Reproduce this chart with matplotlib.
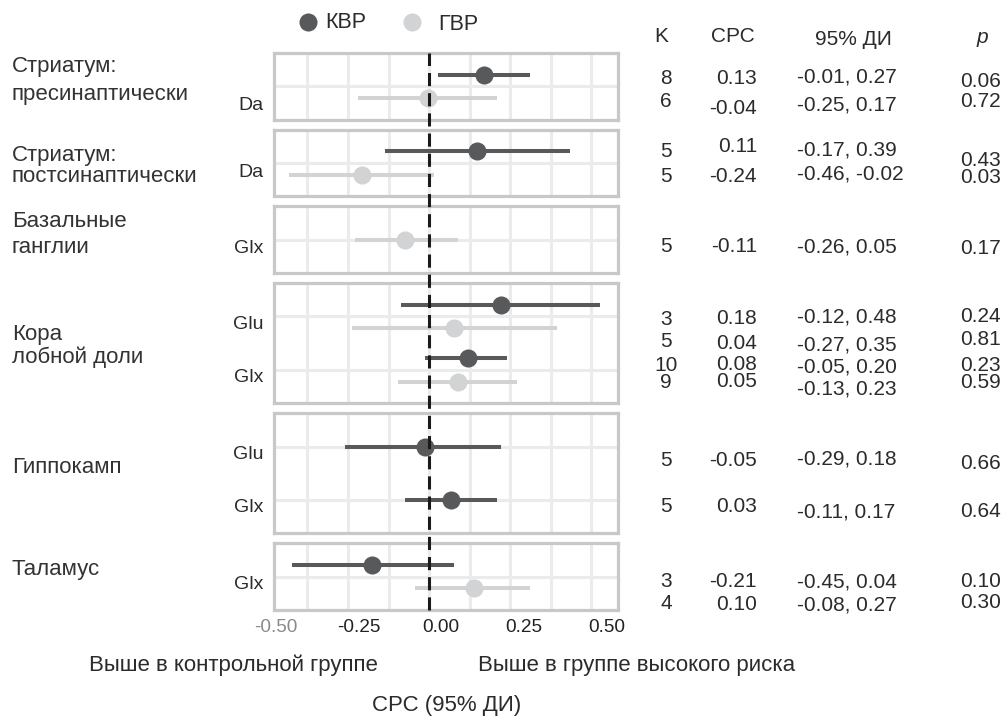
import numpy as np
import matplotlib
matplotlib.use('Agg')
import matplotlib.pyplot as plt
import matplotlib.transforms as mtransforms
from matplotlib.lines import Line2D

plt.rcParams['font.family'] = ['Liberation Sans', 'DejaVu Sans']

# --- данные ---
regions = ['Стриатум:\nпресинаптически', 'Стриатум:\nпостсинаптически',
           'Базальные\nганглии', 'Кора\nлобной доли', 'Гиппокамп', 'Таламус']
region_metabs = [['Da'], ['Da'], ['Glx'], ['Glu', 'Glx'], ['Glu', 'Glx'], ['Glx']]
groups = ['КВР', 'ГВР']

row_region = [0, 0, 1, 1, 2, 3, 3, 3, 3, 4, 4, 5, 5]
row_metab = ['Da', 'Da', 'Da', 'Da', 'Glx', 'Glu', 'Glu', 'Glx', 'Glx', 'Glu', 'Glx', 'Glx', 'Glx']
row_group = ['КВР', 'ГВР', 'КВР', 'ГВР', 'ГВР', 'КВР', 'ГВР', 'КВР', 'ГВР', 'КВР', 'КВР', 'КВР', 'ГВР']
k_studies = [8, 6, 5, 5, 5, 3, 5, 10, 9, 5, 5, 3, 4]
smd = [0.13, -0.04, 0.11, -0.24, -0.11, 0.18, 0.04, 0.08, 0.05, -0.05, 0.03, -0.21, 0.10]
ci_lo = [-0.01, -0.25, -0.17, -0.46, -0.26, -0.12, -0.27, -0.05, -0.13, -0.29, -0.11, -0.45, -0.08]
ci_hi = [0.27, 0.17, 0.39, -0.02, 0.05, 0.48, 0.35, 0.20, 0.23, 0.18, 0.17, 0.04, 0.27]
p_val = ['0.06', '0.72', '0.43', '0.03', '0.17', '0.24', '0.81', '0.23', '0.59', '0.66', '0.64', '0.10', '0.30']

x_ticks = [-0.50, -0.25, 0.00, 0.25, 0.50]

# --- оформление ---
colors = {'КВР': '#58595b', 'ГВР': '#d1d3d4'}
grid_col = '#ebebeb'
border_col = '#c8c8c8'
txt_col = '#2b2b2b'
ref_x = -0.036                      # положение пунктирной линии
grid_x = ref_x + 0.1227 * np.arange(-3, 5)
dodge = 0.22

W, H = 1006, 723
fig = plt.figure(figsize=(W / 100, H / 100), dpi=100)
# координаты в пикселях от верхнего левого угла
px = mtransforms.Affine2D().scale(1 / W, -1 / H).translate(0, 1) + fig.transFigure

spans = [len(m) + 0.25 for m in region_metabs]
top_px, bot_px, gap_px = 53, 610, 10
avg_h = (bot_px - top_px - 5 * gap_px) / 6
gs = fig.add_gridspec(6, 1, height_ratios=spans, left=274 / W, right=618 / W,
                      top=1 - top_px / H, bottom=1 - bot_px / H, hspace=gap_px / avg_h)

label_dy = [19, 9, 9, 8, 8, 8]      # сдвиг подписей метаболитов вниз, px
axes = []
for i, mets in enumerate(region_metabs):
    ax = fig.add_subplot(gs[i])
    axes.append(ax)
    n = len(mets)
    ax.set_xlim(-0.505, 0.535)
    ax.set_ylim(n + 0.625, 0.375)
    for g in grid_x:
        ax.axvline(g, color=grid_col, lw=2.2, zorder=0)
    for j in range(n):
        ax.axhline(j + 1, color=grid_col, lw=2.2, zorder=0)

    for r in range(len(smd)):
        if row_region[r] != i:
            continue
        both = sum(1 for q in range(len(smd))
                   if row_region[q] == i and row_metab[q] == row_metab[r]) > 1
        y = mets.index(row_metab[r]) + 1
        if both:
            y += -dodge if row_group[r] == 'КВР' else dodge
        c = colors[row_group[r]]
        ax.hlines(y, ci_lo[r], ci_hi[r], color=c, lw=2.9, zorder=3)
        ax.plot(smd[r], y, 'o', ms=13, color=c, mec='none', zorder=4)

    ax.set_yticks([])
    tr = mtransforms.blended_transform_factory(ax.transAxes, ax.transData) + \
        mtransforms.ScaledTranslation(-11 / 100, -label_dy[i] / 100, fig.dpi_scale_trans)
    for j, m in enumerate(mets):
        ax.text(0, j + 1, m, transform=tr, ha='right', va='center',
                fontsize=14, color=txt_col)

    for s in ax.spines.values():
        s.set_color(border_col)
        s.set_linewidth(2.3)
    ax.set_xticks(x_ticks)
    ax.tick_params(length=0, labelbottom=False)

# ось x только у нижней панели
axb = axes[-1]
axb.tick_params(labelbottom=True, pad=6.5)
axb.set_xticklabels(['%.2f' % t for t in x_ticks], fontsize=13.7, color='#222222')
axb.get_xticklabels()[0].set_color('#8a8a8a')

# пунктир через все панели
tr_ref = mtransforms.blended_transform_factory(axes[0].transData, fig.transFigure)
fig.add_artist(Line2D([ref_x, ref_x], [1 - bot_px / H, 1 - top_px / H], transform=tr_ref,
                      color='#1a1a1a', lw=2.2, linestyle=(0, (4.3, 2.3)), zorder=5))

# названия областей
region_base = [[71.7, 100], [160.7, 182.3], [226.7, 253.3], [340, 363.3], [473.3], [575]]
for name, bases in zip(regions, region_base):
    for line, yb in zip(name.split('\n'), bases):
        fig.text(12, yb, line, transform=px, ha='left', va='baseline',
                 fontsize=16, color='#333333')

# легенда
leg_pos = [(308, 22, 325, 22), (412, 22, 438, 25)]
for g, (mx, my, tx, ty) in zip(groups, leg_pos):
    fig.add_artist(Line2D([mx], [my], marker='o', ms=13, color=colors[g], mec='none',
                          transform=px))
    fig.text(tx, ty, g, transform=px, ha='left', va='center', fontsize=15.5, color=txt_col)

# таблица справа
fs = 15
em = fs * 100 / 72
head = [('K', 661, 35), ('СРС', 733, 35), ('95% ДИ', 853, 38)]
for t, x, yc in head:
    fig.text(x, yc + 0.358 * em, t, transform=px, ha='center', va='baseline',
             fontsize=fs, color=txt_col)
fig.text(982, 43, 'p', transform=px, ha='center', va='baseline', fontsize=fs,
         style='italic', color=txt_col)

k_y = [76.7, 100, 150, 175, 245, 318, 340, 364, 381, 458.3, 505, 580, 602]
smd_y = [76.7, 106.7, 145, 175, 245, 316.7, 341.7, 363, 380, 458.3, 505, 580, 603]
ci_y = [75, 103, 148, 171.7, 245, 315, 343, 365, 386.7, 456.7, 510, 580, 603]
p_y = [80, 100, 159, 176, 246.7, 315, 338, 364, 381, 461.7, 510, 580, 601]
for r in range(len(smd)):
    cells = [('%d' % k_studies[r], 666, k_y[r], 'center'),
             ('%.2f' % smd[r], 757, smd_y[r], 'right'),
             ('%.2f, %.2f' % (ci_lo[r], ci_hi[r]), 797, ci_y[r], 'left'),
             (p_val[r], 1001, p_y[r], 'right')]
    for t, x, yc, ha in cells:
        fig.text(x, yc + 0.358 * em, t, transform=px, ha=ha, va='baseline',
                 fontsize=fs, color=txt_col)

# подписи под осью
fig.text(233, 665, 'Выше в контрольной группе', transform=px, ha='center', va='center',
         fontsize=16, color=txt_col)
fig.text(637, 665, 'Выше в группе высокого риска', transform=px, ha='center', va='center',
         fontsize=16, color=txt_col)
fig.text(447, 706, 'СРС (95% ДИ)', transform=px, ha='center', va='center',
         fontsize=16, color=txt_col)

fig.savefig('out.png', dpi=100)
